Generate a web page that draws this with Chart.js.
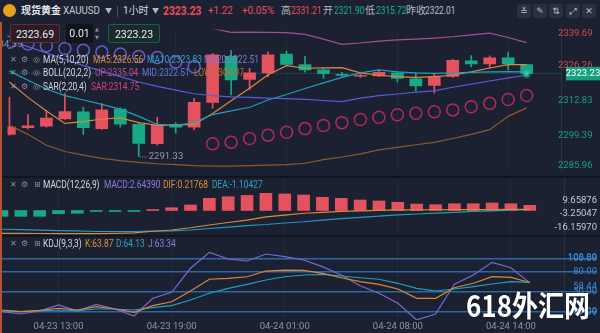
<!DOCTYPE html>
<html>
<head>
<meta charset="utf-8">
<script src="https://cdn.jsdelivr.net/npm/chart.js@4.4.1/dist/chart.umd.min.js"></script>
<style>
  html, body { margin: 0; padding: 0; background: #1b2130; }
  #wrap { position: relative; width: 600px; height: 333px; overflow: hidden; background: #1b2130;
          font-family: Roboto, "Noto Sans CJK SC", sans-serif; }
  canvas { position: absolute; left: 0; }
  .t { position: absolute; white-space: nowrap; font-size: 10px; line-height: 12px; color: #d5d8de;
       transform: scaleX(0.84); transform-origin: 0 50%; }
  .ic { position: absolute; font-family: "DejaVu Sans", sans-serif; font-size: 8px; color: #8d939e; line-height: 12px; }
  .hd { position: absolute; white-space: nowrap; font-size: 11px; line-height: 14px; top: 4px; color: #b4b8c0;
        transform: scaleX(0.76); transform-origin: 0 50%; }
  .cn { position: absolute; white-space: nowrap; font-size: 10px; line-height: 14px; top: 4px; color: #b4b8c0; }
  .btn { position: absolute; top: 24px; height: 19px; line-height: 19px; text-align: center; color: #e9ebef;
         font-size: 10.5px; border-radius: 2px; box-sizing: border-box; }
  .tb { position: absolute; top: 4px; width: 14px; height: 14px; background: #2a313e; border-radius: 2px; color: #b9bec7;
        font-family: "DejaVu Sans", sans-serif; font-size: 9px; line-height: 14px; text-align: center; }
</style>
</head>
<body>
<div id="wrap">
  <canvas id="main" width="600" height="156" style="top:22px"></canvas>
  <canvas id="macd" width="600" height="58" style="top:178px"></canvas>
  <canvas id="kdj" width="600" height="97" style="top:236px"></canvas>

  <!-- pane separators / left marker -->
  <div style="position:absolute;left:0;top:176px;width:600px;height:2px;background:#11151d"></div>
  <div style="position:absolute;left:0;top:235px;width:600px;height:1.5px;background:#11151d"></div>
  <div style="position:absolute;left:0;top:22px;width:1.5px;height:311px;background:#b5532e"></div>

  <!-- header -->
  <div style="position:absolute;left:3px;top:4px;width:13px;height:13px;border-radius:50%;background:#e6a21c"></div>
  <div class="cn" style="left:21px;color:#e6e8ec;font-weight:bold">现货黄金</div>
  <div class="hd" style="left:63px;color:#c9ccd3;transform:scaleX(0.88)">XAUUSD</div>
  <div class="cn" style="left:105px;font-size:7px">▼</div>
  <div style="position:absolute;left:117px;top:6px;width:1px;height:11px;background:#4a5160"></div>
  <div class="cn" style="left:123px;color:#d5d8de">1小时</div>
  <div class="cn" style="left:152px;font-size:7px">▼</div>
  <div class="hd" style="left:163px;color:#f04c5c;font-weight:bold;font-size:12px;transform:scaleX(0.86)">2323.23</div>
  <div class="hd" style="left:208px;color:#f04c5c;transform:scaleX(0.9)">+1.22</div>
  <div class="hd" style="left:242px;color:#f04c5c;transform:scaleX(0.9)">+0.05%</div>
  <div class="cn" style="left:281px">高</div>
  <div class="hd" style="left:291px;color:#f04c5c">2331.21</div>
  <div class="cn" style="left:323px">开</div>
  <div class="hd" style="left:334px;color:#18b08a">2321.90</div>
  <div class="cn" style="left:365px">低</div>
  <div class="hd" style="left:376px;color:#18b08a">2315.72</div>
  <div class="cn" style="left:406px">昨收</div>
  <div class="hd" style="left:425px;color:#b8bcc4">2322.01</div>
  <div class="tb" style="left:517px">≚</div>
  <div class="tb" style="left:533px">✎</div>
  <div class="tb" style="left:549px">⇅</div>
  <div class="tb" style="left:566px">⤢</div>
  <div class="tb" style="left:582px">✕</div>

  <!-- trade boxes -->
  <div class="btn" style="left:10px;width:50px;border:1px solid #6b2a33;background:#2a1d26">2323.69</div>
  <div class="btn" style="left:66px;width:27px;background:#10141b">0.01</div>
  <div class="ic" style="left:95px;top:25px;font-size:5px;line-height:8px">▲<br>▼</div>
  <div class="btn" style="left:108px;width:52px;border:1px solid #1d5c4b;background:#1a2b2c">2323.23</div>

  <!-- indicator legends -->
  <div class="ic" style="left:10px;top:54px">✕</div><div class="ic" style="left:21px;top:54px">⚙</div><div class="ic" style="left:33px;top:54px">◎</div>
  <div class="t" style="left:43px;top:54px">MA(5,10,20)</div>
  <div class="t" style="left:93px;top:54px;color:#e08e3a">MA5:2326.56</div>
  <div class="t" style="left:147px;top:54px;color:#2ea3c6">MA10:2323.83</div>
  <div class="t" style="left:204px;top:54px;color:#8078dc">MA20:2322.51</div>

  <div class="ic" style="left:10px;top:67px">✕</div><div class="ic" style="left:21px;top:67px">⚙</div><div class="ic" style="left:33px;top:67px">◎</div>
  <div class="t" style="left:43px;top:67px">BOLL(20,2,2)</div>
  <div class="t" style="left:95px;top:67px;color:#c0479a">UP:2335.04</div>
  <div class="t" style="left:142px;top:67px;color:#6f6fe0">MID:2322.51</div>
  <div class="t" style="left:194px;top:67px;color:#c06f34">LOW:2309.97</div>

  <div class="ic" style="left:10px;top:81px">✕</div><div class="ic" style="left:21px;top:81px">⚙</div><div class="ic" style="left:33px;top:81px">◎</div>
  <div class="t" style="left:43px;top:81px">SAR(2,20,4)</div>
  <div class="t" style="left:91px;top:81px;color:#d8407a">SAR:2314.75</div>

  <div class="ic" style="left:10px;top:179px">✕</div><div class="ic" style="left:21px;top:179px">⚙</div><div class="ic" style="left:34px;top:179px">⊞</div>
  <div class="t" style="left:43px;top:179px">MACD(12,26,9)</div>
  <div class="t" style="left:104px;top:179px;color:#8c7ce0">MACD:2.64390</div>
  <div class="t" style="left:163px;top:179px;color:#df903c">DIF:0.21768</div>
  <div class="t" style="left:212px;top:179px;color:#2ba5c9">DEA:-1.10427</div>

  <div class="ic" style="left:10px;top:238px">✕</div><div class="ic" style="left:21px;top:238px">⚙</div><div class="ic" style="left:34px;top:238px">⊞</div>
  <div class="t" style="left:43px;top:238px">KDJ(9,3,3)</div>
  <div class="t" style="left:85px;top:238px;color:#df903c">K:63.87</div>
  <div class="t" style="left:116px;top:238px;color:#2ba5c9">D:64.13</div>
  <div class="t" style="left:148px;top:238px;color:#8c7ce0">J:63.34</div>

  <!-- watermark -->
  <div style="position:absolute;left:466px;top:288px;font:bold 26px 'Noto Sans CJK SC',sans-serif;color:#fff;line-height:30px;transform:scaleY(1.12);transform-origin:left top;text-shadow:0 0 2px rgba(0,0,0,.6)">618外汇网</div>
</div>

<script>
const FONT = 'Roboto, "Noto Sans CJK SC", sans-serif';
Chart.defaults.font.family = FONT;

// ---- data ----
const times = ['04-23 10:00','04-23 11:00','04-23 12:00','04-23 13:00','04-23 14:00','04-23 15:00','04-23 16:00',
  '04-23 17:00','04-23 18:00','04-23 19:00','04-23 20:00','04-23 21:00','04-23 22:00','04-23 23:00',
  '04-24 00:00','04-24 01:00','04-24 02:00','04-24 03:00','04-24 04:00','04-24 06:00','04-24 07:00',
  '04-24 08:00','04-24 09:00','04-24 10:00','04-24 11:00','04-24 12:00','04-24 13:00','04-24 14:00','04-24 15:00'];
const labelIdx = [3, 9, 15, 21, 27];

const openP  = [2299.80,2302.34,2302.93,2305.70,2308.48,2301.99,2309.52,2303.62,2296.23,2303.62,2302.58,2312.06,2329.77,2320.88,
  2323.41,2330.60,2326.64,2324.56,2322.90,2322.13,2322.27,2323.41,2321.09,2318.55,2322.02,2328.03,2326.89,2329.21,2326.64];
const highP  = [2314.14,2307.44,2308.90,2315.43,2310.32,2311.61,2310.00,2304.32,2306.29,2304.32,2313.59,2330.95,2332.09,2325.15,
  2331.50,2331.75,2329.77,2325.39,2323.66,2323.76,2324.56,2323.90,2323.41,2322.82,2328.62,2330.10,2330.00,2331.21,2326.64];
const lowP   = [2299.50,2301.90,2302.60,2305.50,2299.80,2301.70,2302.58,2291.33,2295.63,2300.25,2301.64,2309.87,2314.97,2317.06,
  2321.92,2326.30,2323.66,2321.33,2322.02,2321.68,2322.00,2319.94,2316.47,2315.72,2321.60,2325.74,2325.15,2324.56,2322.82];
const closeP = [2302.58,2303.03,2306.05,2308.59,2302.34,2309.18,2303.72,2296.33,2303.38,2302.58,2312.06,2330.36,2320.74,2323.41,
  2330.36,2326.64,2324.56,2323.07,2322.48,2322.48,2323.66,2321.33,2318.45,2322.02,2328.27,2326.89,2329.21,2326.89,2323.23];

const ma5  = [2319.9,2314.0,2308.8,2304.0,2304.7,2305.7,2306.1,2304.3,2303.3,2303.3,2303.6,2307.8,2312.7,2317.5,
  2322.7,2326.2,2325.2,2325.3,2325.4,2323.4,2322.5,2322.0,2321.7,2322.0,2322.5,2323.8,2325.3,2326.6,2326.56];
const ma10 = [2324.1,2320.6,2317.2,2314.7,2313.0,2311.3,2309.5,2306.7,2303.6,2303.3,2304.3,2307.4,2308.8,2310.2,
  2313.0,2315.1,2317.4,2319.6,2321.7,2323.4,2324.6,2323.8,2323.4,2323.2,2323.4,2323.6,2323.8,2323.9,2323.83];
const bollMid = [2335.9,2333.5,2331.1,2328.6,2326.2,2324.1,2322.0,2319.9,2318.2,2316.8,2315.4,2314.7,2314.2,2314.0,
  2313.7,2313.5,2313.2,2312.8,2312.4,2313.7,2314.7,2315.3,2316.0,2316.5,2317.9,2319.1,2320.3,2321.5,2322.51];
const bollUp  = [null,null,null,null,null,null,null,null,null,null,null,2340.5,2339.0,2339.1,
  2339.0,2338.9,2338.2,2336.4,2334.4,2334.9,2335.6,2336.1,2336.4,2336.8,2337.3,2338.0,2338.7,2337.0,2335.04];
const bollLow = [2303.3,2299.8,2295.6,2293.2,2291.8,2290.6,2289.7,2289.0,2288.5,2288.2,2287.8,2287.6,2287.6,2287.8,
  2288.0,2288.2,2288.7,2290.1,2291.1,2292.3,2293.8,2294.8,2295.8,2296.7,2298.2,2299.8,2301.6,2306.7,2309.97];
const sar = [2335.2,2334.5,2333.8,2332.8,2332.1,2331.4,2330.7,2329.7,2329.3,2327.6,2325.8,2296.2,2296.8,2298.2,
  2299.5,2300.6,2302.0,2303.2,2304.3,2305.5,2306.4,2307.3,2307.9,2308.5,2309.2,2310.4,2311.7,2313.2,2314.75];
const priceTicks = [2339.69, 2326.26, 2312.83, 2299.39, 2285.96];
const lastPrice = 2323.23;

const macdHist = [-5.5,-5.5,-5.5,-3.0,-2.6,-0.7,-0.7,-0.7,0.5,2.6,5.2,11.5,13.0,14.2,
  16.2,15.6,14.6,12.5,11.5,9.9,9.0,7.7,6.1,5.5,6.4,6.4,7.1,6.4,4.9];
const dif = [-21.5,-21.6,-21.7,-21.8,-21.9,-21.9,-21.7,-21.2,-19.6,-18.4,-16.3,-13.7,-11.3,-9.0,
  -6.1,-4.4,-2.6,-1.7,-0.9,-0.3,0.1,0.5,0.6,0.7,0.75,0.85,0.9,1.0,1.1];
const dea = [-17.7,-18.1,-18.5,-19.0,-19.3,-19.8,-20.0,-19.8,-19.5,-19.3,-18.4,-17.0,-15.6,-14.2,
  -13.2,-11.8,-10.6,-9.0,-7.6,-6.4,-5.3,-4.2,-3.3,-2.5,-1.7,-0.9,-0.3,0.3,0.8];
const macdTicks = [9.65876, -3.25047, -16.1597];

const kVals = [22.8,20.3,22.4,25.4,22.8,27.8,24.3,19.4,29.3,35.2,51.2,68.7,70.1,72.5,
  81.0,82.5,82.1,77.6,71.0,65.1,61.2,54.2,40.3,40.3,56.1,62.7,72.5,71.6,63.87];
const dVals = [21.3,20.3,21.3,22.8,21.8,24.3,24.3,22.8,26.3,29.3,37.8,47.8,55.2,61.2,
  67.6,72.5,75.1,76.1,73.6,71.0,68.7,62.7,55.2,51.2,54.2,57.6,61.6,65.1,64.13];
const jVals = [20.3,16.9,21.3,30.3,21.3,31.3,24.3,13.9,40.3,49.3,85.1,108.89,99.0,96.0,
  106.4,102.4,97.5,87.5,75.1,59.1,47.8,32.8,7.99,16.9,61.2,75.1,94.0,86.0,63.34];
const kdjTicks = [100, 80, 50, 20];

// ---- layout helpers ----
const UP_COL = '#e4515f', DN_COL = '#17a983';
const X_MIN = -0.106, X_MAX = 31.565, SEP_X = 29.867;
const idx = times.map((_, i) => i);
const pts = arr => arr.map((v, i) => ({ x: i, y: v }));
const candleCol = openP.map((o, i) => closeP[i] >= o ? UP_COL : DN_COL);

function line(arr, color, width) {
  return { type: 'line', data: pts(arr), borderColor: color, borderWidth: width || 1.2,
           pointRadius: 0, tension: 0, order: 2 };
}

function xAxis(showLabels) {
  return {
    type: 'linear', min: X_MIN, max: X_MAX, offset: false,
    afterBuildTicks: s => { s.ticks = labelIdx.concat([SEP_X]).map(v => ({ value: v })); },
    afterFit: s => { s.height = showLabels ? 13 : 0; s.paddingLeft = 0; s.paddingRight = 0; },
    grid: { offset: false, drawTicks: false, color: c => (c.tick && c.tick.value > 29) ? '#2b3342' : '#232a37' },
    border: { display: false },
    ticks: { display: showLabels, autoSkip: false, maxRotation: 0, padding: 1, color: '#8c93a0',
             font: { size: 9.5 }, callback: v => times[v] || '' }
  };
}

function yAxis(min, max, tickVals, extra) {
  return Object.assign({
    position: 'right', min: min, max: max,
    afterBuildTicks: s => { s.ticks = tickVals.map(v => ({ value: v })); },
    // keep the pane full height: no room reserved for edge labels
    afterFit: s => { s.width = 0; s.paddingTop = 0; s.paddingBottom = 0; },
    grid: { display: false },
    border: { display: false }
  }, extra);
}

const base = {
  responsive: false, animation: false, events: [],
  layout: { padding: { left: 0, right: 3, top: 0, bottom: 0 } },
  plugins: { legend: { display: false }, tooltip: { enabled: false } }
};

// ---- main price pane ----
const mainMarks = {
  id: 'mainMarks',
  afterDraw(chart) {
    const { ctx, scales: { x, y } } = chart;
    ctx.save();
    ctx.font = '9.5px ' + FONT;
    ctx.textBaseline = 'middle';
    // lowest low marker
    const li = lowP.indexOf(Math.min(...lowP));
    const lx = x.getPixelForValue(li), ly = y.getPixelForValue(lowP[li]);
    ctx.strokeStyle = '#9097a3'; ctx.lineWidth = 1; ctx.setLineDash([1, 1.5]);
    ctx.beginPath(); ctx.moveTo(lx + 1, ly + 0.5); ctx.lineTo(lx + 9, ly + 0.5); ctx.stroke();
    ctx.setLineDash([]);
    ctx.fillStyle = '#9097a3';
    ctx.fillText(lowP[li].toFixed(2), lx + 10, ly);
    // high marker of an earlier bar, cut by the left edge
    ctx.fillText('2334.35', -12, y.getPixelForValue(2334.35));
    // current price glow + tag
    const py = y.getPixelForValue(lastPrice), px = x.getPixelForValue(28);
    const g = ctx.createRadialGradient(px, py + 1, 0, px, py + 1, 5);
    g.addColorStop(0, 'rgba(60,230,170,0.9)'); g.addColorStop(1, 'rgba(60,230,170,0)');
    ctx.fillStyle = g; ctx.beginPath(); ctx.arc(px, py + 1, 5, 0, Math.PI * 2); ctx.fill();
    ctx.fillStyle = '#15a07e';
    ctx.fillRect(566, py - 6.5, 34, 13.5);
    ctx.fillStyle = '#ffffff'; ctx.textAlign = 'center';
    ctx.fillText(lastPrice.toFixed(2), 583, py + 0.5);
    ctx.restore();
  }
};

new Chart(document.getElementById('main'), {
  type: 'bar',
  data: {
    datasets: [
      { type: 'line', data: [{ x: X_MIN, y: lastPrice }, { x: SEP_X, y: lastPrice }], borderColor: 'rgba(24,170,132,0.8)',
        borderWidth: 1, borderDash: [1, 2], pointRadius: 0, order: 9 },
      { data: idx.map(i => ({ x: i, y: [lowP[i], highP[i]] })), backgroundColor: candleCol,
        barThickness: 1, grouped: false, order: 7 },
      { data: idx.map(i => ({ x: i, y: [openP[i], closeP[i]] })), backgroundColor: candleCol,
        barThickness: 12, minBarLength: 1, grouped: false, order: 6 },
      line(bollUp, '#a24f9a'),
      line(bollMid, '#5a5bd6'),
      line(bollLow, '#8d5a2e'),
      line(ma10, '#239cc0'),
      line(ma5, '#d9893a'),
      { type: 'line', data: pts(sar), showLine: false, pointRadius: 6, pointBorderWidth: 1.5,
        pointBackgroundColor: 'rgba(0,0,0,0)',
        pointBorderColor: sar.map((v, i) => v > highP[i] ? '#6a5acd' : '#b4285e'), order: 1 }
    ]
  },
  options: Object.assign({}, base, {
    scales: {
      x: xAxis(false),
      y: yAxis(2285.91, 2340.08, priceTicks, {
        ticks: {
          mirror: true, padding: 0,
          color: c => (c.tick && c.tick.value > lastPrice) ? '#d9465a' : '#17a17e',
          // edge labels are nudged inward with an empty extra line
          font: c => ({ size: 9.5, family: FONT,
            lineHeight: !c.tick ? 1.2 : c.tick.value === priceTicks[0] ? '7px' : c.tick.value === priceTicks[4] ? '10px' : 1.2 }),
          callback: v => v === priceTicks[0] ? ['', v.toFixed(2)] : v === priceTicks[4] ? [v.toFixed(2), ''] : v.toFixed(2)
        }
      })
    }
  }),
  plugins: [mainMarks]
});

// ---- MACD pane ----
new Chart(document.getElementById('macd'), {
  type: 'bar',
  data: {
    datasets: [
      { data: pts(macdHist), backgroundColor: macdHist.map(v => v >= 0 ? UP_COL : DN_COL),
        barThickness: 12, minBarLength: 1, grouped: false, order: 3 },
      line(dif, '#d68a3c'),
      line(dea, '#2399bd')
    ]
  },
  options: Object.assign({}, base, {
    scales: {
      x: xAxis(false),
      y: yAxis(-24.06, 30.66, macdTicks, {
        ticks: { mirror: true, padding: 0, color: '#c5c9d1', font: { size: 9.5 }, callback: v => v.toFixed(5) }
      })
    }
  })
});

// ---- KDJ pane ----
const kdjMarks = {
  id: 'kdjMarks',
  afterDraw(chart) {
    const { ctx, scales: { y } } = chart;
    const hi = Math.max(...jVals), lo = Math.min(...jVals);
    ctx.save();
    ctx.font = '9.5px ' + FONT;
    ctx.fillStyle = '#3a8ad6'; ctx.textAlign = 'right'; ctx.textBaseline = 'middle';
    ctx.fillText(hi.toFixed(2), 597, y.getPixelForValue(100) - 1);
    ctx.fillText(((hi + lo) / 2).toFixed(2), 597, y.getPixelForValue(50) - 5);
    ctx.fillText(lo.toFixed(2), 597, y.getPixelForValue(20) + 1);
    ctx.restore();
  }
};

new Chart(document.getElementById('kdj'), {
  type: 'line',
  data: {
    datasets: [
      line(kVals, '#d58a3a'),
      line(dVals, '#1fa0c2'),
      line(jVals, '#7d68d0')
    ]
  },
  options: Object.assign({}, base, {
    scales: {
      x: xAxis(true),
      y: yAxis(7.9, 133.3, kdjTicks, {
        grid: { display: true, drawTicks: false, color: '#2a68a8', lineWidth: 1.5 },
        ticks: { mirror: true, padding: 0, color: '#3a8ad6', font: { size: 9.5 }, callback: v => v.toFixed(2) }
      })
    }
  }),
  plugins: [kdjMarks]
});
</script>
</body>
</html>
